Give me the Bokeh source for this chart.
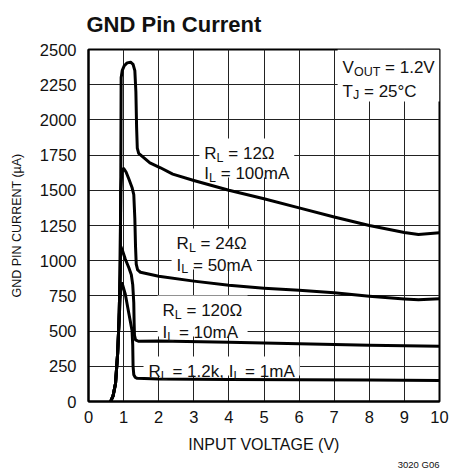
from bokeh.plotting import figure
from bokeh.models import Range1d, FixedTicker, Title
from bokeh.core.properties import value
from bokeh.embed import file_html
from bokeh.resources import INLINE

# ---------------- data ----------------
x_ticks = [0, 1, 2, 3, 4, 5, 6, 7, 8, 9, 10]
y_ticks = [0, 250, 500, 750, 1000, 1250, 1500, 1750, 2000, 2250, 2500]

vin_12ohm = [0.63, 0.70, 0.77, 0.83, 0.87, 0.90, 0.92, 0.93, 0.96, 1.02, 1.10, 1.20, 1.27,
             1.32, 1.35, 1.37, 1.39, 1.43, 1.75, 2.05, 2.40, 3.0, 4.0, 5.0, 6.0, 7.0,
             8.0, 9.0, 9.4, 10.0]
ignd_12ohm = [0, 40, 128, 341, 575, 900, 1600, 2300, 2350, 2385, 2405, 2410, 2395,
              2350, 2200, 1950, 1800, 1762, 1695, 1660, 1615, 1570, 1500, 1440, 1375, 1310,
              1250, 1200, 1186, 1198]

vin_24ohm = [0.63, 0.70, 0.77, 0.83, 0.87, 0.90, 0.92, 0.95, 1.00, 1.07, 1.15, 1.24, 1.29,
             1.32, 1.34, 1.36, 1.40, 1.48, 2.0, 3.0, 4.0, 5.0, 6.0, 7.0, 8.0, 9.0, 9.4, 10.0]
ignd_24ohm = [0, 40, 128, 341, 575, 900, 1500, 1630, 1655, 1630, 1580, 1520, 1470,
              1300, 1100, 975, 935, 918, 890, 855, 825, 805, 790, 772, 748, 728, 722, 729]

vin_120ohm = [0.63, 0.70, 0.77, 0.83, 0.87, 0.90, 0.92, 0.97, 1.05, 1.15, 1.22, 1.26, 1.29,
              1.30, 1.31, 1.34, 1.42, 2.0, 4.0, 6.0, 8.0, 10.0]
ignd_120ohm = [0, 40, 128, 341, 575, 900, 1100, 1070, 1010, 950, 900, 830, 700,
               560, 470, 438, 428, 430, 420, 410, 400, 393]

vin_1k2 = [0.63, 0.70, 0.77, 0.83, 0.87, 0.92, 0.96, 1.05, 1.15, 1.24, 1.26, 1.27, 1.29,
           1.33, 1.39, 2.0, 4.0, 6.0, 8.0, 10.0]
ignd_1k2 = [0, 40, 128, 341, 575, 800, 838, 760, 625, 504, 400, 250, 190,
            172, 165, 160, 157, 155, 152, 150]

# ---------------- layout / style ----------------
W, H = 463, 474
BL, BR, BT, BB = 88, 24, 49, 73
FW, FH = W - BL - BR, H - BT - BB
DX = 10.0 / FW      # data units per pixel (x)
DY = 2500.0 / FH    # data units per pixel (y)

FONT = "Liberation Sans"
MAIN_PX, SUB_PX, SUB_DROP = 17.0, 12.5, 4

p = figure(width=W, height=H, x_range=Range1d(0, 10), y_range=Range1d(0, 2500),
           output_backend="svg", toolbar_location=None,
           min_border_left=BL, min_border_right=BR, min_border_top=BT, min_border_bottom=BB)

p.title.text = "GND Pin Current"
p.title.text_font = FONT
p.title.text_font_size = "22px"
p.title.text_font_style = "bold"
p.title.text_color = "#111111"
p.title.align = "left"
p.title.vertical_align = "top"
p.title.standoff = 21
p.title.offset = -2

for ax in (p.xaxis[0], p.yaxis[0]):
    ax.axis_line_color = "black"
    ax.axis_line_width = 2
    ax.major_tick_in = 0
    ax.major_tick_out = 0
    ax.minor_tick_line_color = None
    ax.major_label_text_font = FONT
    ax.major_label_text_font_size = "16.5px"
    ax.major_label_text_color = "#111111"
    ax.axis_label_text_font = FONT
    ax.axis_label_text_font_style = "normal"
    ax.axis_label_text_color = "#111111"

p.xaxis.ticker = FixedTicker(ticks=x_ticks)
p.yaxis.ticker = FixedTicker(ticks=y_ticks)
p.xaxis.axis_label = "INPUT VOLTAGE (V)"
p.yaxis.axis_label = "GND PIN CURRENT (\u00b5A)"
p.xaxis.axis_label_text_font_size = "16px"
p.yaxis.axis_label_text_font_size = "12.5px"
p.xaxis.major_label_standoff = 9
p.yaxis.major_label_standoff = 12
p.xaxis.axis_label_standoff = 10
p.yaxis.axis_label_standoff = 13

p.xgrid.ticker = FixedTicker(ticks=x_ticks)
p.ygrid.ticker = FixedTicker(ticks=y_ticks)
p.grid.grid_line_color = "#222222"
p.grid.grid_line_width = 1
p.outline_line_color = "black"
p.outline_line_width = 2

note = Title(text="3020 G06", align="right", text_font=FONT, text_font_size="9.5px",
             text_font_style="normal", text_color="#111111", standoff=3)
p.add_layout(note, "below")

# ---------------- labels with subscripts ----------------
ADV = {' ': 278, 'R': 722, 'L': 556, 'I': 278, '=': 584, '0': 556, '1': 556, '2': 556,
       '4': 556, '5': 556, '\u03a9': 768, 'm': 833, 'A': 667, '.': 278, 'k': 500, ',': 278,
       'V': 667, 'O': 778, 'U': 722, 'T': 611, 'J': 500, '\u00b0': 400, 'C': 722}


def tw(s, size):
    return sum(ADV.get(c, 556) for c in s) / 1000.0 * size


groups = [
    [(3.30, 1761, [("R", 0), ("L", 1), (" = 12\u03a9", 0)]),
     (3.30, 1619, [("I", 0), ("L", 1), (" = 100mA", 0)])],
    [(2.51, 1122, [("R", 0), ("L", 1), (" = 24\u03a9", 0)]),
     (2.51, 966, [("I", 0), ("L", 1), (" = 50mA", 0)])],
    [(2.11, 646, [("R", 0), ("L", 1), (" = 120\u03a9", 0)]),
     (2.11, 490, [("I", 0), ("L", 1), (" = 10mA", 0)])],
    [(1.71, 213, [("R", 0), ("L", 1), (" = 1.2k,", 0), (" I", 0), ("L", 1), (" = 1mA", 0)])],
    [(7.24, 2372, [("V", 0), ("OUT", 1), (" = 1.2V", 0)]),
     (7.24, 2202, [("T", 0), ("J", 1), (" = 25\u00b0C", 0)])],
]

main = dict(x=[], y=[], text=[], xo=[])
sub = dict(x=[], y=[], text=[], xo=[])
boxes = dict(left=[], right=[], top=[], bottom=[])
for gi, grp in enumerate(groups):
    lefts, rights = [], []
    for (x, y, parts) in grp:
        off = 0.0
        for t, s in parts:
            size = SUB_PX if s else MAIN_PX
            stripped = t.lstrip(" ")
            off += tw(t[:len(t) - len(stripped)], size)   # leading blanks as offset
            d = sub if s else main
            d["x"].append(x)
            d["y"].append(y)
            d["text"].append(stripped)
            d["xo"].append(off)
            off += tw(stripped, size)
        lefts.append(x)
        rights.append(x + off * DX)
    top = grp[0][1] + 15 * DY
    bottom = grp[-1][1] - 4 * DY
    left = min(lefts) - 5 * DX
    right = max(rights) + 5 * DX
    if gi == len(groups) - 1:
        top, right, bottom = 2500, 10, grp[-1][1] - 10 * DY
    boxes["left"].append(left)
    boxes["right"].append(right)
    boxes["top"].append(top)
    boxes["bottom"].append(bottom)

p.quad(left=boxes["left"], right=boxes["right"], top=boxes["top"], bottom=boxes["bottom"],
       fill_color="white", line_color=None)

# ---------------- curves ----------------
for xs, ys in ((vin_12ohm, ignd_12ohm), (vin_24ohm, ignd_24ohm),
               (vin_120ohm, ignd_120ohm), (vin_1k2, ignd_1k2)):
    p.line(xs, ys, line_color="black", line_width=3, line_join="round", line_cap="round")

p.text(x=main["x"], y=main["y"], text=main["text"], x_offset=main["xo"], y_offset=0,
       text_font=value(FONT), text_font_size=f"{MAIN_PX}px", text_align="left",
       text_baseline="alphabetic", text_color="#111111")
p.text(x=sub["x"], y=sub["y"], text=sub["text"], x_offset=sub["xo"], y_offset=SUB_DROP,
       text_font=value(FONT), text_font_size=f"{SUB_PX}px", text_align="left",
       text_baseline="alphabetic", text_color="#111111")

open("out.html", "w").write(file_html(p, INLINE))
